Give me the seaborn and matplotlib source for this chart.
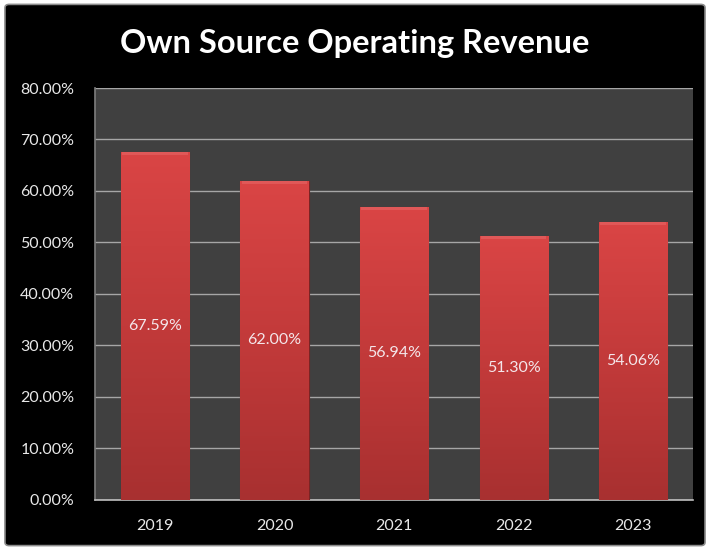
import numpy as np
import pandas as pd
import matplotlib
matplotlib.use("Agg")
import matplotlib.pyplot as plt
import seaborn as sns
from matplotlib.patches import FancyBboxPatch
from matplotlib.colors import LinearSegmentedColormap
from matplotlib.ticker import FuncFormatter

years = ["2019", "2020", "2021", "2022", "2023"]
revenue_pct = [67.59, 62.00, 56.94, 51.30, 54.06]
title = "Own Source Operating Revenue"

df = pd.DataFrame({"year": years, "pct": revenue_pct})

sns.set_theme(style="dark")
plt.rcParams["font.family"] = ["Lato", "DejaVu Sans"]

fig = plt.figure(figsize=(7.1, 5.5), dpi=100)
fig.patch.set_facecolor("white")

# black panel with grey border behind everything
panel = FancyBboxPatch((0.007, 0.008), 0.986, 0.984,
                       boxstyle="round,pad=0,rounding_size=0.006",
                       transform=fig.transFigure, facecolor="black",
                       edgecolor="#8c8c8c", linewidth=1.2, zorder=-10)
fig.patches.append(panel)

ax = fig.add_axes([0.134, 0.091, 0.842, 0.749])
ax.set_facecolor("#404040")

sns.barplot(data=df, x="year", y="pct", color="#c83838", width=0.57,
            saturation=1, edgecolor="#7a2424", linewidth=0.8, ax=ax, zorder=3)

# vertical red gradient on each bar
cmap = LinearSegmentedColormap.from_list("red", ["#a83030", "#c23a3a", "#da4545"])
grad = np.linspace(0, 1, 256).reshape(-1, 1)
for bar in ax.patches:
    x0, y0 = bar.get_x(), bar.get_y()
    w, h = bar.get_width(), bar.get_height()
    im = ax.imshow(grad, extent=[x0, x0 + w, y0, y0 + h], origin="lower",
                   cmap=cmap, aspect="auto", zorder=4)
    im.set_clip_path(bar)
    # lighter top bevel
    ax.fill_between([x0 + 0.01, x0 + w - 0.01], y0 + h - 0.6, y0 + h,
                    color="#e05858", zorder=5, linewidth=0)

for i, v in enumerate(revenue_pct):
    ax.text(i, v / 2, f"{v:.2f}%", ha="center", va="center",
            color="#f4e6ea", fontsize=11.5, zorder=6)

ax.set_xlim(-0.5, 4.5)
ax.set_ylim(0, 80)
ax.set_yticks(np.arange(0, 81, 10))
ax.yaxis.set_major_formatter(FuncFormatter(lambda v, p: f"{v:.2f}%"))
ax.grid(axis="y", color="#a6a6a6", linewidth=1.0, zorder=0)
ax.grid(axis="x", visible=False)
ax.set_axisbelow(True)
ax.set_xlabel("")
ax.set_ylabel("")
ax.tick_params(axis="both", colors="#e8e8e8", labelsize=11.5, length=0)
ax.tick_params(axis="x", pad=14)
ax.tick_params(axis="y", pad=15)
for side in ["top", "right"]:
    ax.spines[side].set_visible(False)
ax.spines["left"].set_color("#7a7a7a")
ax.spines["bottom"].set_color("#bfbfbf")
ax.spines["bottom"].set_linewidth(1.2)

fig.text(0.5, 0.921, title, ha="center", va="center", color="white",
         fontsize=23.5, fontweight="bold")

fig.savefig("out.png", dpi=100)
